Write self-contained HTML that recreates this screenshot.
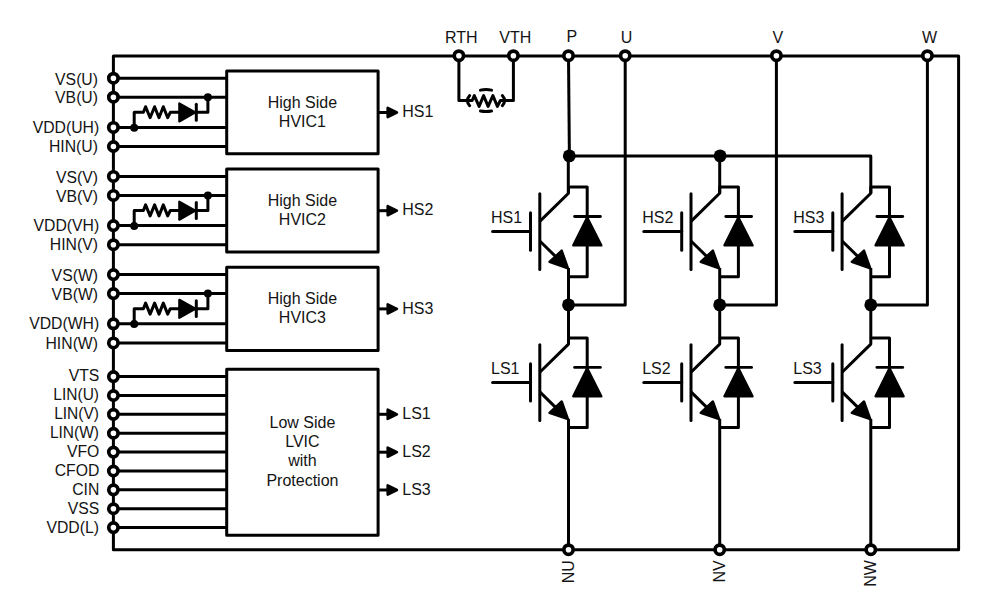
<!DOCTYPE html>
<html><head><meta charset="utf-8"><title>Block diagram</title>
<style>
html,body{margin:0;padding:0;background:#fff;}
body{width:1006px;height:602px;overflow:hidden;}
svg{display:block}
svg text{font-family:"Liberation Sans",sans-serif;fill:#141414;stroke:none}
</style></head><body>
<svg width="1006" height="602" viewBox="0 0 1006 602" stroke="#000" fill="none">
<rect x="113.4" y="56.1" width="845.2" height="493.6" fill="none" stroke-width="3.0" stroke-linejoin="round"/>
<line x1="113.4" y1="78.2" x2="226.7" y2="78.2" stroke-width="3.0" stroke-linecap="butt"/>
<line x1="113.4" y1="97.2" x2="226.7" y2="97.2" stroke-width="3.0" stroke-linecap="butt"/>
<line x1="113.4" y1="127.4" x2="226.7" y2="127.4" stroke-width="3.0" stroke-linecap="butt"/>
<line x1="113.4" y1="146.5" x2="226.7" y2="146.5" stroke-width="3.0" stroke-linecap="butt"/>
<polyline points="134.2,127.4 134.2,112.3 143.4,112.3 145.6,106.7 150.1,117.7 154.6,106.7 159.0,117.7 163.3,106.7 167.7,117.7 170.3,112.3 180,112.3" fill="none" stroke-width="3.0" stroke-linejoin="round" stroke-linecap="butt"/>
<polyline points="195,112.3 207.9,112.3 207.9,97.2" fill="none" stroke-width="3.0" stroke-linejoin="round" stroke-linecap="butt"/>
<polygon points="179.3,103.39999999999999 179.3,121.5 195.4,112.39999999999999" fill="#000" stroke-width="2.2" stroke-linejoin="round"/>
<line x1="196.3" y1="104.3" x2="196.3" y2="120.2" stroke-width="3.0" stroke-linecap="round"/>
<circle cx="134.2" cy="127.7" r="4.0" fill="#000" stroke="none"/>
<circle cx="207.9" cy="97.2" r="4.0" fill="#000" stroke="none"/>
<rect x="226.7" y="71.05" width="151.40000000000003" height="82.75" fill="#fff" stroke-width="3.0" stroke-linejoin="round"/>
<text transform="translate(302.4,107.6) scale(1.0,1)" text-anchor="middle" font-size="16.0">High Side</text>
<text transform="translate(302.4,126.7) scale(1.0,1)" text-anchor="middle" font-size="16.0">HVIC1</text>
<line x1="378.1" y1="112.5" x2="388" y2="112.5" stroke-width="3.0" stroke-linecap="butt"/>
<polygon points="387.7,107.9 387.7,117.1 396.9,112.5" fill="#000" stroke-width="2.6" stroke-linejoin="round"/>
<text transform="translate(402.3,116.9) scale(1.0,1)" text-anchor="start" font-size="16.0">HS1</text>
<circle cx="113.4" cy="78.2" r="4.65" fill="#fff" stroke-width="3.7"/>
<text transform="translate(98.0,84.5) scale(0.985,1)" text-anchor="end" font-size="16.0">VS(U)</text>
<circle cx="113.4" cy="97.2" r="4.65" fill="#fff" stroke-width="3.7"/>
<text transform="translate(98.0,103.4) scale(0.985,1)" text-anchor="end" font-size="16.0">VB(U)</text>
<circle cx="113.4" cy="127.4" r="4.65" fill="#fff" stroke-width="3.7"/>
<text transform="translate(99.2,132.6) scale(0.985,1)" text-anchor="end" font-size="16.0">VDD(UH)</text>
<circle cx="113.4" cy="146.5" r="4.65" fill="#fff" stroke-width="3.7"/>
<text transform="translate(98.0,152.1) scale(0.985,1)" text-anchor="end" font-size="16.0">HIN(U)</text>
<line x1="113.4" y1="176.4" x2="226.7" y2="176.4" stroke-width="3.0" stroke-linecap="butt"/>
<line x1="113.4" y1="195.4" x2="226.7" y2="195.4" stroke-width="3.0" stroke-linecap="butt"/>
<line x1="113.4" y1="225.60000000000002" x2="226.7" y2="225.60000000000002" stroke-width="3.0" stroke-linecap="butt"/>
<line x1="113.4" y1="244.7" x2="226.7" y2="244.7" stroke-width="3.0" stroke-linecap="butt"/>
<polyline points="134.2,225.60000000000002 134.2,210.5 143.4,210.5 145.6,204.9 150.1,215.9 154.6,204.9 159.0,215.9 163.3,204.9 167.7,215.9 170.3,210.5 180,210.5" fill="none" stroke-width="3.0" stroke-linejoin="round" stroke-linecap="butt"/>
<polyline points="195,210.5 207.9,210.5 207.9,195.4" fill="none" stroke-width="3.0" stroke-linejoin="round" stroke-linecap="butt"/>
<polygon points="179.3,201.6 179.3,219.7 195.4,210.6" fill="#000" stroke-width="2.2" stroke-linejoin="round"/>
<line x1="196.3" y1="202.5" x2="196.3" y2="218.4" stroke-width="3.0" stroke-linecap="round"/>
<circle cx="134.2" cy="225.90000000000003" r="4.0" fill="#000" stroke="none"/>
<circle cx="207.9" cy="195.4" r="4.0" fill="#000" stroke="none"/>
<rect x="226.7" y="169.1" width="151.40000000000003" height="83.0" fill="#fff" stroke-width="3.0" stroke-linejoin="round"/>
<text transform="translate(302.4,205.8) scale(1.0,1)" text-anchor="middle" font-size="16.0">High Side</text>
<text transform="translate(302.4,224.9) scale(1.0,1)" text-anchor="middle" font-size="16.0">HVIC2</text>
<line x1="378.1" y1="210.7" x2="388" y2="210.7" stroke-width="3.0" stroke-linecap="butt"/>
<polygon points="387.7,206.1 387.7,215.29999999999998 396.9,210.7" fill="#000" stroke-width="2.6" stroke-linejoin="round"/>
<text transform="translate(402.3,215.10000000000002) scale(1.0,1)" text-anchor="start" font-size="16.0">HS2</text>
<circle cx="113.4" cy="176.4" r="4.65" fill="#fff" stroke-width="3.7"/>
<text transform="translate(98.0,182.70000000000002) scale(0.985,1)" text-anchor="end" font-size="16.0">VS(V)</text>
<circle cx="113.4" cy="195.4" r="4.65" fill="#fff" stroke-width="3.7"/>
<text transform="translate(98.0,201.6) scale(0.985,1)" text-anchor="end" font-size="16.0">VB(V)</text>
<circle cx="113.4" cy="225.60000000000002" r="4.65" fill="#fff" stroke-width="3.7"/>
<text transform="translate(99.2,230.8) scale(0.985,1)" text-anchor="end" font-size="16.0">VDD(VH)</text>
<circle cx="113.4" cy="244.7" r="4.65" fill="#fff" stroke-width="3.7"/>
<text transform="translate(98.0,250.29999999999998) scale(0.985,1)" text-anchor="end" font-size="16.0">HIN(V)</text>
<line x1="113.4" y1="274.6" x2="226.7" y2="274.6" stroke-width="3.0" stroke-linecap="butt"/>
<line x1="113.4" y1="293.6" x2="226.7" y2="293.6" stroke-width="3.0" stroke-linecap="butt"/>
<line x1="113.4" y1="323.8" x2="226.7" y2="323.8" stroke-width="3.0" stroke-linecap="butt"/>
<line x1="113.4" y1="342.9" x2="226.7" y2="342.9" stroke-width="3.0" stroke-linecap="butt"/>
<polyline points="134.2,323.8 134.2,308.7 143.4,308.7 145.6,303.09999999999997 150.1,314.09999999999997 154.6,303.09999999999997 159.0,314.09999999999997 163.3,303.09999999999997 167.7,314.09999999999997 170.3,308.7 180,308.7" fill="none" stroke-width="3.0" stroke-linejoin="round" stroke-linecap="butt"/>
<polyline points="195,308.7 207.9,308.7 207.9,293.6" fill="none" stroke-width="3.0" stroke-linejoin="round" stroke-linecap="butt"/>
<polygon points="179.3,299.8 179.3,317.9 195.4,308.8" fill="#000" stroke-width="2.2" stroke-linejoin="round"/>
<line x1="196.3" y1="300.7" x2="196.3" y2="316.59999999999997" stroke-width="3.0" stroke-linecap="round"/>
<circle cx="134.2" cy="324.1" r="4.0" fill="#000" stroke="none"/>
<circle cx="207.9" cy="293.6" r="4.0" fill="#000" stroke="none"/>
<rect x="226.7" y="267.2" width="151.40000000000003" height="83.3" fill="#fff" stroke-width="3.0" stroke-linejoin="round"/>
<text transform="translate(302.4,304.0) scale(1.0,1)" text-anchor="middle" font-size="16.0">High Side</text>
<text transform="translate(302.4,323.1) scale(1.0,1)" text-anchor="middle" font-size="16.0">HVIC3</text>
<line x1="378.1" y1="308.9" x2="388" y2="308.9" stroke-width="3.0" stroke-linecap="butt"/>
<polygon points="387.7,304.29999999999995 387.7,313.5 396.9,308.9" fill="#000" stroke-width="2.6" stroke-linejoin="round"/>
<text transform="translate(402.3,314.2) scale(1.0,1)" text-anchor="start" font-size="16.0">HS3</text>
<circle cx="113.4" cy="274.6" r="4.65" fill="#fff" stroke-width="3.7"/>
<text transform="translate(98.0,280.90000000000003) scale(0.985,1)" text-anchor="end" font-size="16.0">VS(W)</text>
<circle cx="113.4" cy="293.6" r="4.65" fill="#fff" stroke-width="3.7"/>
<text transform="translate(98.0,299.8) scale(0.985,1)" text-anchor="end" font-size="16.0">VB(W)</text>
<circle cx="113.4" cy="323.8" r="4.65" fill="#fff" stroke-width="3.7"/>
<text transform="translate(99.2,329.0) scale(0.985,1)" text-anchor="end" font-size="16.0">VDD(WH)</text>
<circle cx="113.4" cy="342.9" r="4.65" fill="#fff" stroke-width="3.7"/>
<text transform="translate(98.0,348.5) scale(0.985,1)" text-anchor="end" font-size="16.0">HIN(W)</text>
<line x1="113.4" y1="376.6" x2="226.7" y2="376.6" stroke-width="3.0" stroke-linecap="butt"/>
<line x1="113.4" y1="395.475" x2="226.7" y2="395.475" stroke-width="3.0" stroke-linecap="butt"/>
<line x1="113.4" y1="414.35" x2="226.7" y2="414.35" stroke-width="3.0" stroke-linecap="butt"/>
<line x1="113.4" y1="433.225" x2="226.7" y2="433.225" stroke-width="3.0" stroke-linecap="butt"/>
<line x1="113.4" y1="452.1" x2="226.7" y2="452.1" stroke-width="3.0" stroke-linecap="butt"/>
<line x1="113.4" y1="470.975" x2="226.7" y2="470.975" stroke-width="3.0" stroke-linecap="butt"/>
<line x1="113.4" y1="489.85" x2="226.7" y2="489.85" stroke-width="3.0" stroke-linecap="butt"/>
<line x1="113.4" y1="508.725" x2="226.7" y2="508.725" stroke-width="3.0" stroke-linecap="butt"/>
<line x1="113.4" y1="527.6" x2="226.7" y2="527.6" stroke-width="3.0" stroke-linecap="butt"/>
<rect x="226.7" y="369.2" width="151.40000000000003" height="166.1" fill="#fff" stroke-width="3.0" stroke-linejoin="round"/>
<text transform="translate(302.4,428.2) scale(1.0,1)" text-anchor="middle" font-size="16.0">Low Side</text>
<text transform="translate(302.4,447.0) scale(1.0,1)" text-anchor="middle" font-size="16.0">LVIC</text>
<text transform="translate(302.4,466.0) scale(1.0,1)" text-anchor="middle" font-size="16.0">with</text>
<text transform="translate(302.4,486.0) scale(1.0,1)" text-anchor="middle" font-size="16.0">Protection</text>
<line x1="378.1" y1="414.3" x2="388" y2="414.3" stroke-width="3.0" stroke-linecap="butt"/>
<polygon points="387.7,409.7 387.7,418.90000000000003 396.9,414.3" fill="#000" stroke-width="2.6" stroke-linejoin="round"/>
<text transform="translate(402.3,419.3) scale(1.0,1)" text-anchor="start" font-size="16.0">LS1</text>
<line x1="378.1" y1="452.2" x2="388" y2="452.2" stroke-width="3.0" stroke-linecap="butt"/>
<polygon points="387.7,447.59999999999997 387.7,456.8 396.9,452.2" fill="#000" stroke-width="2.6" stroke-linejoin="round"/>
<text transform="translate(402.3,457.2) scale(1.0,1)" text-anchor="start" font-size="16.0">LS2</text>
<line x1="378.1" y1="490.0" x2="388" y2="490.0" stroke-width="3.0" stroke-linecap="butt"/>
<polygon points="387.7,485.4 387.7,494.6 396.9,490.0" fill="#000" stroke-width="2.6" stroke-linejoin="round"/>
<text transform="translate(402.3,495.0) scale(1.0,1)" text-anchor="start" font-size="16.0">LS3</text>
<circle cx="113.4" cy="376.6" r="4.65" fill="#fff" stroke-width="3.7"/>
<text transform="translate(99.3,380.5) scale(0.985,1)" text-anchor="end" font-size="16.0">VTS</text>
<circle cx="113.4" cy="395.475" r="4.65" fill="#fff" stroke-width="3.7"/>
<text transform="translate(99.0,400.175) scale(0.97,1)" text-anchor="end" font-size="16.0">LIN(U)</text>
<circle cx="113.4" cy="414.35" r="4.65" fill="#fff" stroke-width="3.7"/>
<text transform="translate(99.0,419.05) scale(0.97,1)" text-anchor="end" font-size="16.0">LIN(V)</text>
<circle cx="113.4" cy="433.225" r="4.65" fill="#fff" stroke-width="3.7"/>
<text transform="translate(99.0,437.925) scale(0.97,1)" text-anchor="end" font-size="16.0">LIN(W)</text>
<circle cx="113.4" cy="452.1" r="4.65" fill="#fff" stroke-width="3.7"/>
<text transform="translate(99.3,456.8) scale(0.985,1)" text-anchor="end" font-size="16.0">VFO</text>
<circle cx="113.4" cy="470.975" r="4.65" fill="#fff" stroke-width="3.7"/>
<text transform="translate(99.3,475.675) scale(0.985,1)" text-anchor="end" font-size="16.0">CFOD</text>
<circle cx="113.4" cy="489.85" r="4.65" fill="#fff" stroke-width="3.7"/>
<text transform="translate(99.3,494.55) scale(0.985,1)" text-anchor="end" font-size="16.0">CIN</text>
<circle cx="113.4" cy="508.725" r="4.65" fill="#fff" stroke-width="3.7"/>
<text transform="translate(99.3,513.725) scale(0.985,1)" text-anchor="end" font-size="16.0">VSS</text>
<circle cx="113.4" cy="527.6" r="4.65" fill="#fff" stroke-width="3.7"/>
<text transform="translate(99.0,532.6) scale(0.985,1)" text-anchor="end" font-size="16.0">VDD(L)</text>
<polyline points="458.9,56.1 458.9,100.5 472.2,100.5 474.3,95.6 479.1,106.4 483.6,95.6 488.1,106.4 492.9,95.6 497.4,106.4 500.4,100.5 513.4,100.5 513.4,56.1" fill="none" stroke-width="3.0" stroke-linejoin="round" stroke-linecap="butt"/>
<path d="M480.47,90.11 A18.4,11.0 0 0 1 491.53,90.11" fill="none" stroke-width="3.0" stroke-linecap="round"/>
<path d="M491.53,111.09 A18.4,11.0 0 0 1 480.47,111.09" fill="none" stroke-width="3.0" stroke-linecap="round"/>
<path d="M469.68,105.68 A18.4,11.0 0 0 1 469.68,95.52" fill="none" stroke-width="3.0" stroke-linecap="round"/>
<path d="M502.32,95.52 A18.4,11.0 0 0 1 502.32,105.68" fill="none" stroke-width="3.0" stroke-linecap="round"/>
<line x1="568.5" y1="56.1" x2="569.4" y2="155.9" stroke-width="3.0" stroke-linecap="butt"/>
<line x1="568.3" y1="155.9" x2="568.3" y2="193.3" stroke-width="3.0" stroke-linecap="butt"/>
<polyline points="568.5,155.9 870.8,155.9 870.8,193.3" fill="none" stroke-width="3.0" stroke-linejoin="round" stroke-linecap="butt"/>
<line x1="719.7" y1="155.9" x2="719.7" y2="193.3" stroke-width="3.0" stroke-linecap="butt"/>
<polyline points="539.8,221.4 568.5,193.2 568.5,187.0 587.2,187.0 587.2,276.7 568.5,276.7" fill="none" stroke-width="3.0" stroke-linejoin="round" stroke-linecap="butt"/>
<line x1="539.8" y1="241.0" x2="564.5" y2="265.2" stroke-width="3.0" stroke-linecap="butt"/>
<polygon points="568.0,268.3 549.5,261.9 561.7,250.6" fill="#000" stroke-width="2.4" stroke-linejoin="round"/>
<line x1="568.5" y1="268.0" x2="568.5" y2="304.6" stroke-width="3.0" stroke-linecap="butt"/>
<line x1="539.8" y1="193.8" x2="539.8" y2="269.6" stroke-width="3.0" stroke-linecap="round"/>
<line x1="530.5" y1="212.8" x2="530.5" y2="250.2" stroke-width="3.0" stroke-linecap="round"/>
<line x1="492.6" y1="231.6" x2="530.5" y2="231.6" stroke-width="3.0" stroke-linecap="round"/>
<line x1="574.6" y1="216.5" x2="600.4" y2="216.5" stroke-width="2.8" stroke-linecap="round"/>
<polygon points="587.2,217.5 573.3,245.4 601.3,245.4" fill="#000" stroke-width="2.4" stroke-linejoin="round"/>
<text transform="translate(491.0,222.8) scale(1.0,1)" text-anchor="start" font-size="16.0">HS1</text>
<polyline points="539.8,372.3 568.5,344.1 568.5,337.9 587.2,337.9 587.2,427.6 568.5,427.6" fill="none" stroke-width="3.0" stroke-linejoin="round" stroke-linecap="butt"/>
<line x1="539.8" y1="391.9" x2="564.5" y2="416.1" stroke-width="3.0" stroke-linecap="butt"/>
<polygon points="568.0,419.20000000000005 549.5,412.79999999999995 561.7,401.5" fill="#000" stroke-width="2.4" stroke-linejoin="round"/>
<line x1="568.5" y1="418.9" x2="568.5" y2="549.5" stroke-width="3.0" stroke-linecap="butt"/>
<line x1="539.8" y1="344.70000000000005" x2="539.8" y2="420.5" stroke-width="3.0" stroke-linecap="round"/>
<line x1="530.5" y1="363.70000000000005" x2="530.5" y2="401.1" stroke-width="3.0" stroke-linecap="round"/>
<line x1="492.6" y1="382.5" x2="530.5" y2="382.5" stroke-width="3.0" stroke-linecap="round"/>
<line x1="574.6" y1="367.4" x2="600.4" y2="367.4" stroke-width="2.8" stroke-linecap="round"/>
<polygon points="587.2,368.4 573.3,396.3 601.3,396.3" fill="#000" stroke-width="2.4" stroke-linejoin="round"/>
<text transform="translate(491.0,373.70000000000005) scale(1.0,1)" text-anchor="start" font-size="16.0">LS1</text>
<line x1="568.5" y1="304.9" x2="568.5" y2="337.8" stroke-width="3.0" stroke-linecap="butt"/>
<polyline points="568.5,304.9 625.2,304.9 625.2,56.1" fill="none" stroke-width="3.0" stroke-linejoin="round" stroke-linecap="butt"/>
<circle cx="568.5" cy="304.9" r="6.4" fill="#000" stroke="none"/>
<circle cx="568.5" cy="549.7" r="4.65" fill="#fff" stroke-width="3.7"/>
<polyline points="691.0,221.4 719.7,193.2 719.7,187.0 738.4000000000001,187.0 738.4000000000001,276.7 719.7,276.7" fill="none" stroke-width="3.0" stroke-linejoin="round" stroke-linecap="butt"/>
<line x1="691.0" y1="241.0" x2="715.7" y2="265.2" stroke-width="3.0" stroke-linecap="butt"/>
<polygon points="719.2,268.3 700.7,261.9 712.9000000000001,250.6" fill="#000" stroke-width="2.4" stroke-linejoin="round"/>
<line x1="719.7" y1="268.0" x2="719.7" y2="304.6" stroke-width="3.0" stroke-linecap="butt"/>
<line x1="691.0" y1="193.8" x2="691.0" y2="269.6" stroke-width="3.0" stroke-linecap="round"/>
<line x1="681.7" y1="212.8" x2="681.7" y2="250.2" stroke-width="3.0" stroke-linecap="round"/>
<line x1="643.8000000000001" y1="231.6" x2="681.7" y2="231.6" stroke-width="3.0" stroke-linecap="round"/>
<line x1="725.8000000000001" y1="216.5" x2="751.6" y2="216.5" stroke-width="2.8" stroke-linecap="round"/>
<polygon points="738.4000000000001,217.5 724.5,245.4 752.5,245.4" fill="#000" stroke-width="2.4" stroke-linejoin="round"/>
<text transform="translate(642.2,222.8) scale(1.0,1)" text-anchor="start" font-size="16.0">HS2</text>
<polyline points="691.0,372.3 719.7,344.1 719.7,337.9 738.4000000000001,337.9 738.4000000000001,427.6 719.7,427.6" fill="none" stroke-width="3.0" stroke-linejoin="round" stroke-linecap="butt"/>
<line x1="691.0" y1="391.9" x2="715.7" y2="416.1" stroke-width="3.0" stroke-linecap="butt"/>
<polygon points="719.2,419.20000000000005 700.7,412.79999999999995 712.9000000000001,401.5" fill="#000" stroke-width="2.4" stroke-linejoin="round"/>
<line x1="719.7" y1="418.9" x2="719.7" y2="549.5" stroke-width="3.0" stroke-linecap="butt"/>
<line x1="691.0" y1="344.70000000000005" x2="691.0" y2="420.5" stroke-width="3.0" stroke-linecap="round"/>
<line x1="681.7" y1="363.70000000000005" x2="681.7" y2="401.1" stroke-width="3.0" stroke-linecap="round"/>
<line x1="643.8000000000001" y1="382.5" x2="681.7" y2="382.5" stroke-width="3.0" stroke-linecap="round"/>
<line x1="725.8000000000001" y1="367.4" x2="751.6" y2="367.4" stroke-width="2.8" stroke-linecap="round"/>
<polygon points="738.4000000000001,368.4 724.5,396.3 752.5,396.3" fill="#000" stroke-width="2.4" stroke-linejoin="round"/>
<text transform="translate(642.2,373.70000000000005) scale(1.0,1)" text-anchor="start" font-size="16.0">LS2</text>
<line x1="719.7" y1="304.9" x2="719.7" y2="337.8" stroke-width="3.0" stroke-linecap="butt"/>
<polyline points="719.7,304.9 776.4,304.9 776.4,56.1" fill="none" stroke-width="3.0" stroke-linejoin="round" stroke-linecap="butt"/>
<circle cx="719.7" cy="304.9" r="6.4" fill="#000" stroke="none"/>
<circle cx="719.7" cy="549.7" r="4.65" fill="#fff" stroke-width="3.7"/>
<polyline points="842.0999999999999,221.4 870.8,193.2 870.8,187.0 889.5,187.0 889.5,276.7 870.8,276.7" fill="none" stroke-width="3.0" stroke-linejoin="round" stroke-linecap="butt"/>
<line x1="842.0999999999999" y1="241.0" x2="866.8" y2="265.2" stroke-width="3.0" stroke-linecap="butt"/>
<polygon points="870.3,268.3 851.8,261.9 864.0,250.6" fill="#000" stroke-width="2.4" stroke-linejoin="round"/>
<line x1="870.8" y1="268.0" x2="870.8" y2="304.6" stroke-width="3.0" stroke-linecap="butt"/>
<line x1="842.0999999999999" y1="193.8" x2="842.0999999999999" y2="269.6" stroke-width="3.0" stroke-linecap="round"/>
<line x1="832.8" y1="212.8" x2="832.8" y2="250.2" stroke-width="3.0" stroke-linecap="round"/>
<line x1="794.9" y1="231.6" x2="832.8" y2="231.6" stroke-width="3.0" stroke-linecap="round"/>
<line x1="876.9" y1="216.5" x2="902.6999999999999" y2="216.5" stroke-width="2.8" stroke-linecap="round"/>
<polygon points="889.5,217.5 875.5999999999999,245.4 903.5999999999999,245.4" fill="#000" stroke-width="2.4" stroke-linejoin="round"/>
<text transform="translate(793.3,222.8) scale(1.0,1)" text-anchor="start" font-size="16.0">HS3</text>
<polyline points="842.0999999999999,372.3 870.8,344.1 870.8,337.9 889.5,337.9 889.5,427.6 870.8,427.6" fill="none" stroke-width="3.0" stroke-linejoin="round" stroke-linecap="butt"/>
<line x1="842.0999999999999" y1="391.9" x2="866.8" y2="416.1" stroke-width="3.0" stroke-linecap="butt"/>
<polygon points="870.3,419.20000000000005 851.8,412.79999999999995 864.0,401.5" fill="#000" stroke-width="2.4" stroke-linejoin="round"/>
<line x1="870.8" y1="418.9" x2="870.8" y2="549.5" stroke-width="3.0" stroke-linecap="butt"/>
<line x1="842.0999999999999" y1="344.70000000000005" x2="842.0999999999999" y2="420.5" stroke-width="3.0" stroke-linecap="round"/>
<line x1="832.8" y1="363.70000000000005" x2="832.8" y2="401.1" stroke-width="3.0" stroke-linecap="round"/>
<line x1="794.9" y1="382.5" x2="832.8" y2="382.5" stroke-width="3.0" stroke-linecap="round"/>
<line x1="876.9" y1="367.4" x2="902.6999999999999" y2="367.4" stroke-width="2.8" stroke-linecap="round"/>
<polygon points="889.5,368.4 875.5999999999999,396.3 903.5999999999999,396.3" fill="#000" stroke-width="2.4" stroke-linejoin="round"/>
<text transform="translate(793.3,373.70000000000005) scale(1.0,1)" text-anchor="start" font-size="16.0">LS3</text>
<line x1="870.8" y1="304.9" x2="870.8" y2="337.8" stroke-width="3.0" stroke-linecap="butt"/>
<polyline points="870.8,304.9 927.4,304.9 927.4,56.1" fill="none" stroke-width="3.0" stroke-linejoin="round" stroke-linecap="butt"/>
<circle cx="870.8" cy="304.9" r="6.4" fill="#000" stroke="none"/>
<circle cx="870.8" cy="549.7" r="4.65" fill="#fff" stroke-width="3.7"/>
<circle cx="569.3" cy="155.9" r="6.4" fill="#000" stroke="none"/>
<circle cx="720.1" cy="155.9" r="6.4" fill="#000" stroke="none"/>
<circle cx="458.9" cy="55.7" r="4.65" fill="#fff" stroke-width="3.7"/>
<circle cx="513.4" cy="55.7" r="4.65" fill="#fff" stroke-width="3.7"/>
<circle cx="568.5" cy="55.7" r="4.65" fill="#fff" stroke-width="3.7"/>
<circle cx="625.2" cy="55.7" r="4.65" fill="#fff" stroke-width="3.7"/>
<circle cx="776.4" cy="55.7" r="4.65" fill="#fff" stroke-width="3.7"/>
<circle cx="927.4" cy="55.7" r="4.65" fill="#fff" stroke-width="3.7"/>
<text transform="translate(445.0,42.9) scale(1.0,1)" text-anchor="start" font-size="16.0">RTH</text>
<text transform="translate(499.3,42.9) scale(1.0,1)" text-anchor="start" font-size="16.0">VTH</text>
<text transform="translate(566.4,41.5) scale(1.0,1)" text-anchor="start" font-size="16.0">P</text>
<text transform="translate(620.8,42.9) scale(1.0,1)" text-anchor="start" font-size="16.0">U</text>
<text transform="translate(772.4,42.9) scale(1.0,1)" text-anchor="start" font-size="16.0">V</text>
<text transform="translate(922.0,42.9) scale(1.0,1)" text-anchor="start" font-size="16.0">W</text>
<text transform="translate(573.5,560.2) rotate(-90) scale(1.0,1)" text-anchor="end" font-size="16.0">NU</text>
<text transform="translate(724.7,560.2) rotate(-90) scale(1.0,1)" text-anchor="end" font-size="16.0">NV</text>
<text transform="translate(875.8,560.2) rotate(-90) scale(1.0,1)" text-anchor="end" font-size="16.0">NW</text>
</svg>
</body></html>
